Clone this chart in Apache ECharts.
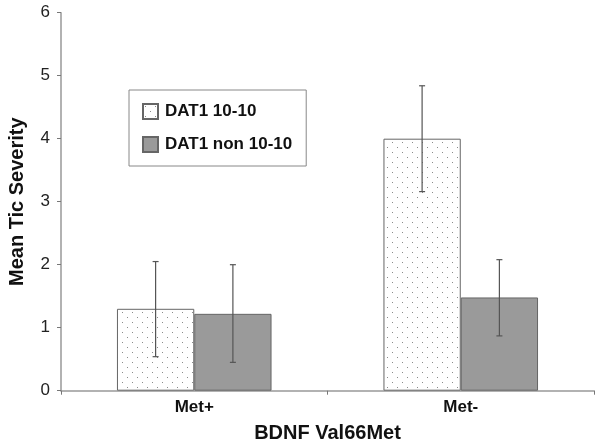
<!DOCTYPE html>
<html><head><meta charset="utf-8">
<script src="https://cdn.jsdelivr.net/npm/echarts@6/dist/echarts.min.js"></script>
<style>html,body{margin:0;padding:0;background:#fff}#c{width:600px;height:446px}</style>
</head><body><div id="c"></div>
<script>
const categories = ['Met+', 'Met-'];
const seriesNames = ['DAT1 10-10', 'DAT1 non 10-10'];
const dat1_1010 = [1.30, 4.00];
const dat1_1010_low = [0.54, 3.16];
const dat1_1010_high = [2.05, 4.84];
const dat1_non = [1.22, 1.48];
const dat1_non_low = [0.45, 0.87];
const dat1_non_high = [2.00, 2.08];
const yTicks = [0, 1, 2, 3, 4, 5, 6];

const pc = document.createElement('canvas');
pc.width = 10; pc.height = 10;
const g = pc.getContext('2d');
g.fillStyle = '#ffffff'; g.fillRect(0,0,10,10);
g.fillStyle = '#8a8a8a';
g.fillRect(2,2,1,1); g.fillRect(7,7,1,1);
const dotted = {image: pc, repeat: 'repeat'};

const chart = echarts.init(document.getElementById('c'), null, {renderer:'canvas'});
const barW = '29%';
function errSeries(idx, low, high) {
  return {
    type: 'custom',
    name: seriesNames[idx] + ' err',
    data: categories.map((c,i)=>[i, low[i], high[i]]),
    z: 10,
    silent: true,
    renderItem: function(params, api) {
      const i = api.value(0);
      const lo = api.coord([i, api.value(1)]);
      const hi = api.coord([i, api.value(2)]);
      const bw = api.size([1,0])[0] * 0.29;
      const x = lo[0] + (idx === 0 ? -bw/2 : bw/2);
      const cap = 3;
      const st = {stroke:'#555', lineWidth:1.2};
      return {type:'group', children:[
        {type:'line', shape:{x1:x,y1:lo[1],x2:x,y2:hi[1]}, style:st},
        {type:'line', shape:{x1:x-cap,y1:lo[1],x2:x+cap,y2:lo[1]}, style:st},
        {type:'line', shape:{x1:x-cap,y1:hi[1],x2:x+cap,y2:hi[1]}, style:st}
      ]};
    }
  };
}
chart.setOption({
  animation: false,
  grid: {left: 61, top: 12.7, right: 6, bottom: 55.3, outerBoundsMode: 'none', containLabel: false},
  legend: {
    show: true,
    data: seriesNames.map(n => ({name: n, icon: 'rect'})),
    orient: 'vertical',
    left: 129, top: 90,
    padding: [13, 14, 13, 13],
    itemGap: 16,
    itemWidth: 15, itemHeight: 15,
    borderColor: '#888', borderWidth: 1,
    backgroundColor: '#fff',
    textStyle: {fontFamily: 'Liberation Sans', fontWeight: 'bold', fontSize: 17, color: '#111', padding: [0,0,0,2]}
  },
  xAxis: {
    type: 'category', data: categories,
    axisLine: {lineStyle: {color: '#999', width: 1.5}},
    axisTick: {show: true, length: 4, lineStyle: {color: '#777'}},
    axisLabel: {fontFamily: 'Liberation Sans', fontWeight: 'bold', fontSize: 17, color: '#111', margin: 8},
    name: 'BDNF Val66Met', nameLocation: 'middle', nameGap: 33,
    nameTextStyle: {fontFamily: 'Liberation Sans', fontWeight: 'bold', fontSize: 20, color: '#111'}
  },
  yAxis: {
    type: 'value', min: 0, max: 6, interval: 1,
    axisLine: {show: true, lineStyle: {color: '#999', width: 1.5}},
    axisTick: {show: true, length: 4, lineStyle: {color: '#777'}},
    splitLine: {show: false},
    axisLabel: {fontFamily: 'Liberation Sans', fontSize: 17, color: '#222', margin: 11,
      formatter: v => yTicks.includes(v) ? String(v) : ''},
    name: 'Mean Tic Severity', nameLocation: 'middle', nameGap: 34,
    nameTextStyle: {fontFamily: 'Liberation Sans', fontWeight: 'bold', fontSize: 20, color: '#111'}
  },
  series: [
    {type: 'bar', name: seriesNames[0], data: dat1_1010, barWidth: barW, barGap: '0%',
     itemStyle: {color: dotted, borderColor: '#666', borderWidth: 1}},
    {type: 'bar', name: seriesNames[1], data: dat1_non, barWidth: barW, barGap: '0%',
     itemStyle: {color: '#9a9a9a', borderColor: '#666', borderWidth: 1}},
    errSeries(0, dat1_1010_low, dat1_1010_high),
    errSeries(1, dat1_non_low, dat1_non_high)
  ]
});
</script></body></html>
